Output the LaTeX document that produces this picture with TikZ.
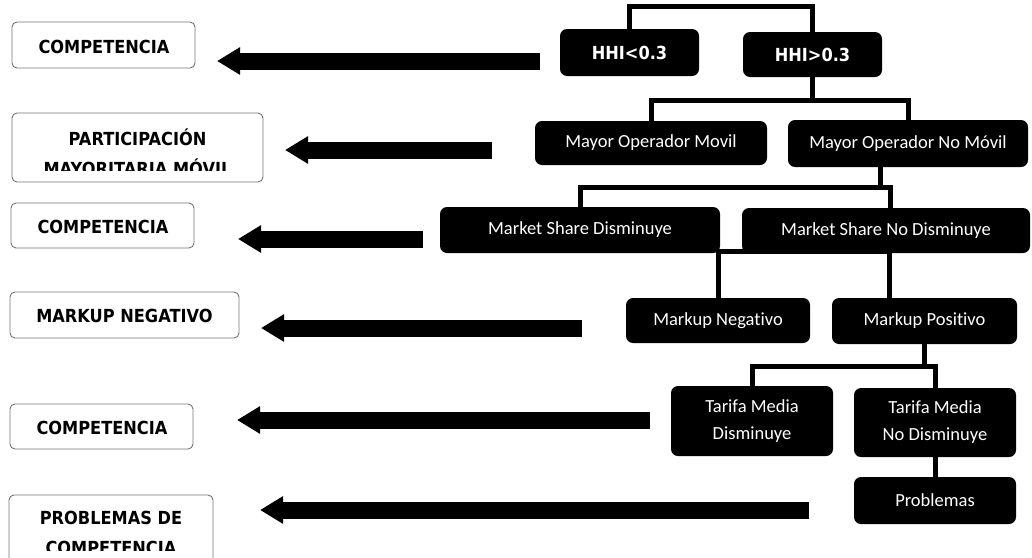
\documentclass[tikz,border=0pt]{standalone}
\usepackage{fontspec}
\usetikzlibrary{arrows.meta}
\newfontfamily\lblfont[FakeStretch=0.9]{DejaVu Sans}
\newfontfamily\nodefont[Ligatures=NoCommon]{Carlito}
\tikzset{
  blk/.style={fill=black, rounded corners=7pt, inner sep=0pt, text=white, align=center,
    font=\nodefont\fontsize{18.5}{27}\selectfont},
  hhibox/.style={blk, font=\lblfont\bfseries\fontsize{18}{20}\selectfont},
  lbox/.style={draw=black!55, line width=0.9pt, rounded corners=5pt, inner sep=0pt},
  lbltext/.style={inner sep=0pt, align=center, font=\lblfont\bfseries\fontsize{18}{30}\selectfont},
  conn/.style={line width=5pt, line join=miter},
  bigarrow/.style={line width=17pt, -{Triangle[length=23pt,width=26pt]}},
}
\begin{document}
\begin{tikzpicture}[x=1pt,y=-1pt]
\useasboundingbox (0,0) rectangle (1032,557);
% right decision nodes
\node[hhibox, minimum width=139pt, minimum height=47pt] (hlo) at (629.5,52.5) {HHI<0.3};
\node[hhibox, minimum width=139pt, minimum height=45pt] (hhi) at (812.5,54.5) {HHI>0.3};
\node[blk, minimum width=232pt, minimum height=44pt] (mom) at (651,143) {Mayor Operador Movil};
\node[blk, minimum width=240pt, minimum height=47pt] (monm) at (908,143.5) {Mayor Operador No Móvil};
\node[blk, minimum width=280pt, minimum height=46pt] (msd) at (580,230) {Market Share Disminuye};
\node[blk, minimum width=288pt, minimum height=45pt] (msnd) at (886,230.5) {Market Share No Disminuye};
\node[blk, minimum width=184pt, minimum height=45pt] (mneg) at (718,320.5) {Markup Negativo};
\node[blk, minimum width=185pt, minimum height=46pt] (mpos) at (924.5,321) {Markup Positivo};
\node[blk, minimum width=162pt, minimum height=70pt] (tmd) at (752,421) {Tarifa Media\\Disminuye};
\node[blk, minimum width=162pt, minimum height=69pt] (tmnd) at (935,422.5) {Tarifa Media\\No Disminuye};
\node[blk, minimum width=162pt, minimum height=47pt] (prob) at (935,500.5) {Problemas};
% bar levels
\coordinate (bar1) at (0,6);
\coordinate (bar2) at (0,100);
\coordinate (bar3) at (0,187);
\coordinate (bar4) at (0,251);
\coordinate (bar5) at (0,366);
% connectors
\draw[conn] (hlo.north) -- (hlo.north |- bar1) -| (hhi.north);
\draw[conn] (hhi.south) -- (hhi.south |- bar2);
\draw[conn] (mom.north) -- (mom.north |- bar2) -| (monm.north);
\draw[conn] ([xshift=-28pt]monm.south) -- ([xshift=-28pt]monm.south |- bar3);
\draw[conn] (msd.north) -- (msd.north |- bar3) -| ([xshift=4pt]msnd.north);
\draw[conn] (mneg.north) -- (mneg.north |- bar4) -| ([xshift=-35pt]mpos.north);
\draw[conn] (mpos.south) -- (mpos.south |- bar5);
\draw[conn] (tmd.north) -- (tmd.north |- bar5) -| (tmnd.north);
\draw[conn] (tmnd.south) -- (prob.north);
% left boxes
\node[lbox, minimum width=183pt, minimum height=46pt] (b1) at (103.5,45) {};
\node[lbltext] (t1) at (104,46.5) {COMPETENCIA};
\node[lbox, minimum width=251pt, minimum height=69pt] (b2) at (137.5,147.5) {};
\begin{scope}
\clip (12,113) rectangle (263,170);
\node[lbltext] (t2) at (137.5,152) {PARTICIPACIÓN\\MAYORITARIA MÓVIL};
\end{scope}
\node[lbox, minimum width=183pt, minimum height=45pt] (b3) at (102.5,225.5) {};
\node[lbltext] (t3) at (103,226.5) {COMPETENCIA};
\node[lbox, minimum width=229pt, minimum height=46pt] (b4) at (124.5,315) {};
\node[lbltext] (t4) at (124.5,316) {MARKUP NEGATIVO};
\node[lbox, minimum width=183pt, minimum height=45pt] (b5) at (101.5,426.5) {};
\node[lbltext] (t5) at (102,427.5) {COMPETENCIA};
\node[lbox, minimum width=204pt, minimum height=80pt] (b6) at (111,535) {};
\begin{scope}
\clip (9,495) rectangle (213,550);
\node[lbltext] (t6) at (111,532.5) {PROBLEMAS DE\\COMPETENCIA};
\end{scope}
% big arrows
\coordinate (a1s) at (540,61);  \coordinate (a1e) at (217,61);
\coordinate (a2s) at (492,150); \coordinate (a2e) at (285,150);
\coordinate (a3s) at (423,239); \coordinate (a3e) at (238,239);
\coordinate (a4s) at (582,328); \coordinate (a4e) at (261,328);
\coordinate (a5s) at (650,420); \coordinate (a5e) at (237,420);
\coordinate (a6s) at (809,510); \coordinate (a6e) at (260,510);
\draw[bigarrow] (a1s) -- (a1e);
\draw[bigarrow] (a2s) -- (a2e);
\draw[bigarrow] (a3s) -- (a3e);
\draw[bigarrow] (a4s) -- (a4e);
\draw[bigarrow] (a5s) -- (a5e);
\draw[bigarrow] (a6s) -- (a6e);
\end{tikzpicture}
\end{document}
